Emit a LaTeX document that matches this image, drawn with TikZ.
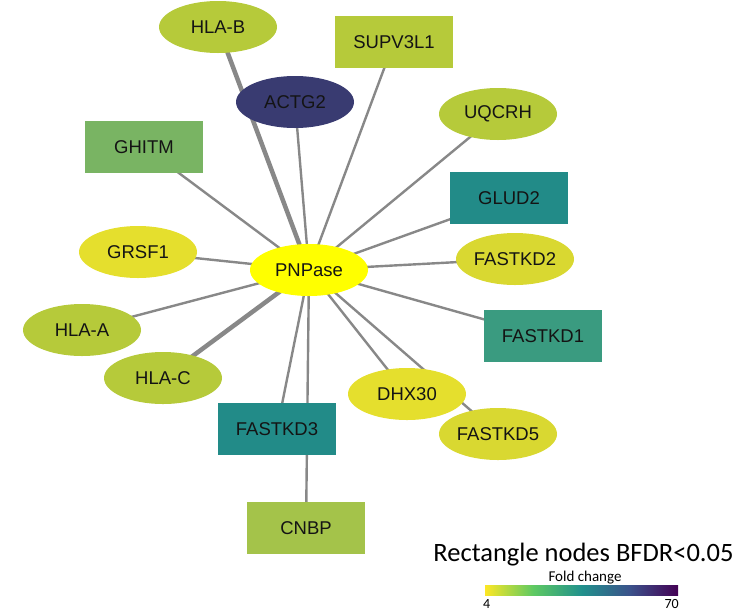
\documentclass[tikz,border=0pt]{standalone}
\usepackage{fontspec}
\setmainfont{Liberation Sans}
\newfontfamily\legendfont{Carlito}
\usetikzlibrary{shapes.geometric, backgrounds}
\definecolor{pnpyellow}{RGB}{255, 255, 0}
\definecolor{limegreen}{RGB}{182, 202, 58}
\definecolor{mossgreen}{RGB}{164, 195, 74}
\definecolor{leafgreen}{RGB}{121, 180, 99}
\definecolor{lemon}{RGB}{229, 223, 45}
\definecolor{mustard}{RGB}{217, 216, 49}
\definecolor{tealdark}{RGB}{34, 139, 136}
\definecolor{tealgreen}{RGB}{58, 155, 128}
\definecolor{navy}{RGB}{57, 59, 113}
\definecolor{linkgray}{RGB}{136, 136, 136}
\definecolor{vir0}{RGB}{253, 231, 37}
\definecolor{vir1}{RGB}{94, 201, 98}
\definecolor{vir2}{RGB}{33, 145, 140}
\definecolor{vir3}{RGB}{59, 82, 139}
\definecolor{vir4}{RGB}{68, 1, 84}
\pgfdeclarehorizontalshading{foldbar}{100bp}{color(0bp)=(vir0); color(25bp)=(vir0);
  color(37.5bp)=(vir1); color(50bp)=(vir2); color(62.5bp)=(vir3); color(75bp)=(vir4); color(100bp)=(vir4)}

\begin{document}
\begin{tikzpicture}[x=1pt, y=-1pt,
    gene/.style={inner sep=0pt, minimum width=118pt, minimum height=52pt,
      text=black!92, font=\fontsize{18.5}{20}\selectfont},
    geneoval/.style={gene, ellipse},
    genebox/.style={gene, rectangle},
    link/.style={draw=linkgray, line width=2.4pt},
    heavylink/.style={link, line width=4.5pt}]
  \useasboundingbox (0,0) rectangle (736,611);

  % hub
  \node[geneoval, fill=pnpyellow] (pnp) at (309,270) {PNPase};

  % interactors
  \node[geneoval, fill=limegreen] (hlab)  at (218,27)  {HLA-B};
  \node[genebox,  fill=limegreen] (supv)  at (394,42)  {SUPV3L1};
  \node[geneoval, fill=navy]      (actg)  at (295,102) {ACTG2};
  \node[geneoval, fill=limegreen] (uqcrh) at (498,114) {UQCRH};
  \node[genebox,  fill=leafgreen] (ghitm) at (144,147) {GHITM};
  \node[genebox,  fill=tealdark]  (glud)  at (509,198) {GLUD2};
  \node[geneoval, fill=lemon]     (grsf)  at (138,252) {GRSF1};
  \node[geneoval, fill=mustard]   (fk2)   at (515,259) {FASTKD2};
  \node[geneoval, fill=limegreen] (hlaa)  at (82,330)  {HLA-A};
  \node[genebox,  fill=tealgreen] (fk1)   at (543,336) {FASTKD1};
  \node[geneoval, fill=limegreen] (hlac)  at (163,378) {HLA-C};
  \node[geneoval, fill=lemon]     (dhx)   at (407,394) {DHX30};
  \node[geneoval, fill=mustard]   (fk5)   at (498,434) {FASTKD5};
  \node[genebox,  fill=tealdark]  (fk3)   at (277,429) {FASTKD3};
  \node[genebox,  fill=mossgreen] (cnbp)  at (306,528) {CNBP};

  % edges behind the nodes
  \begin{scope}[on background layer]
    \foreach \g in {actg, supv, uqcrh, ghitm, glud, grsf, fk2, hlaa, fk1, dhx, fk5, fk3, cnbp}
      \draw[link] (pnp.center) -- (\g.center);
    \draw[heavylink] (pnp.center) -- (hlab.center);
    \draw[heavylink] (pnp.center) -- (hlac.center);
  \end{scope}

  % legend
  \node[anchor=base, inner sep=0pt, font=\legendfont\fontsize{26.5}{28}\selectfont]
    (title) at (583.5,561) {Rectangle nodes BFDR<0.05};
  \node[anchor=base, inner sep=0pt, font=\legendfont\fontsize{15}{16}\selectfont]
    (fold) at (585,581) {Fold change};
  \shade[shading=foldbar] (485,585) rectangle (678,595);
  \node[anchor=base west, inner sep=0pt, font=\legendfont\fontsize{14}{15}\selectfont]
    (lo) at (483,608) {4};
  \node[anchor=base east, inner sep=0pt, font=\legendfont\fontsize{14}{15}\selectfont]
    (hi) at (679,608) {70};
\end{tikzpicture}
\end{document}
